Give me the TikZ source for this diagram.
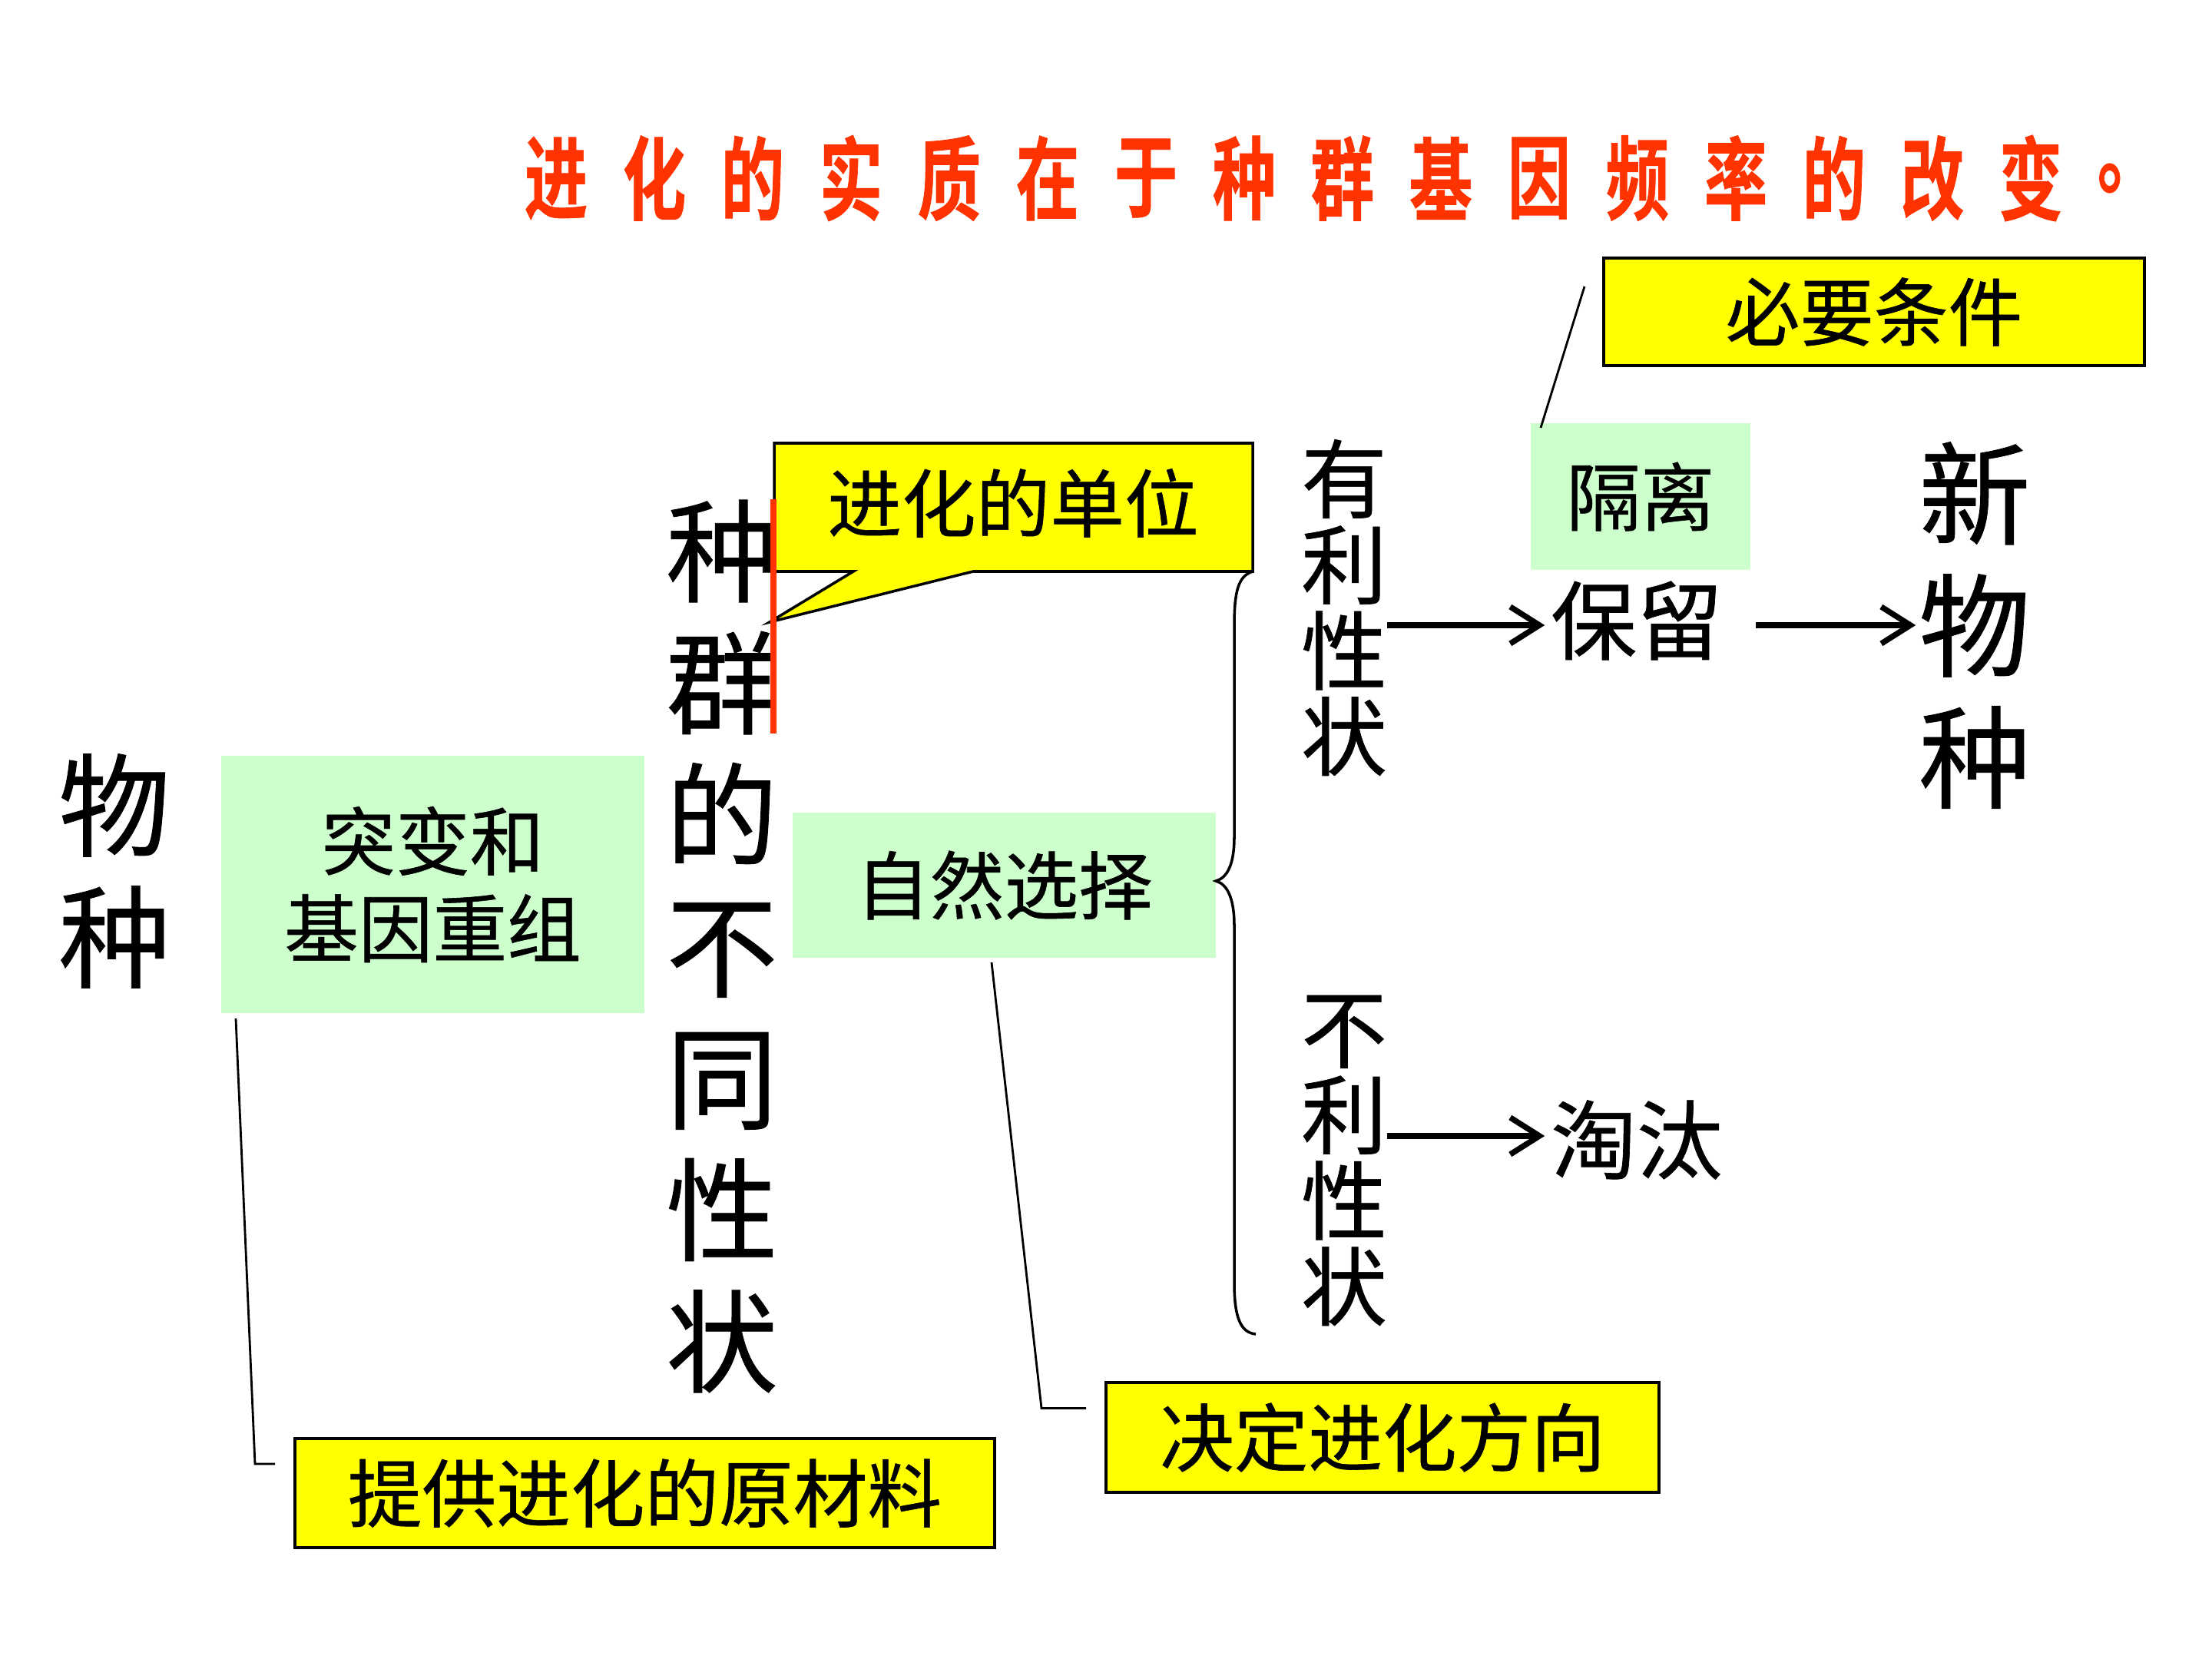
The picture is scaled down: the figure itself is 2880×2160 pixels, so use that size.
\documentclass[tikz,border=0pt]{standalone}
\usepackage{fontspec}
\newfontfamily\cjk[FakeBold=0.6]{Noto Sans CJK SC}
\newfontfamily\cjkttl[FakeBold=0.8]{Noto Sans CJK SC Bold}
\usetikzlibrary{arrows.meta,calc}
\definecolor{ttlred}{HTML}{FF3300}
\definecolor{boxyellow}{HTML}{FFFF00}
\definecolor{boxgreen}{HTML}{CCFFCC}
\tikzset{
  every node/.style={inner sep=0pt, outer sep=0pt},
  txtM/.style={font=\cjk\fontsize{27.5}{32.3}\selectfont, align=center},
  txtL/.style={font=\cjk\fontsize{31.8}{31.8}\selectfont, align=center},
  txtXL/.style={font=\cjk\fontsize{41.4}{48.8}\selectfont, align=center},
  ybox/.style={draw=black, line width=1pt, fill=boxyellow, txtM},
  gbox/.style={fill=boxgreen, txtM},
  ttl/.style={font=\cjkttl\fontsize{33.5}{33.5}\selectfont, text=ttlred},
  arr/.style={line width=2.1pt, -{Straight Barb[length=3.8mm,width=4.8mm,line width=2.1pt]}},
  thinline/.style={line width=0.8pt},
}
\begin{document}
\begin{tikzpicture}[x=0.1mm,y=-0.1mm]
\fill[white] (0,0) rectangle (2880,2160);
\useasboundingbox (0,0) rectangle (2880,2160);

% title
\foreach \c [count=\i from 0] in {进,化,的,实,质,在,于,种,群,基,因,频,率,的,改,变,。}
  \node[ttl] (t\i) at (724+128*\i,232) {\scalebox{0.7}[1]{\c}};

% left column
\node[txtXL] (wz) at (149,1134) {物\\种};
\node[gbox, minimum width=55.1mm, minimum height=33.5mm] (tb) at (563.5,1151.5) {突变和\\基因重组};
\node[txtXL] (zq) at (940,1232) {种\\群\\的\\不\\同\\性\\状};

% callout
\coordinate (uNW) at (1008,577);
\coordinate (uSE) at (1631,744);
\coordinate (ptip) at (1002,810);
\filldraw[fill=boxyellow, draw=black, line width=1pt]
  (uNW) -| (uSE) -- ($(uSE)+(-364,0)$) -- (ptip) -- ($(uSE)+(-520,0)$) -- (uNW |- uSE) -- cycle;
\node[txtM] (unit) at (1319,655) {进化的单位};
\draw[ttlred, line width=2.2pt] (1007,650) coordinate (rA) -- (1007,955) coordinate (rB);

% natural selection
\node[gbox, minimum width=55.1mm, minimum height=18.9mm] (zr) at (1307.5,1152.5) {自然选择};

% brace
\draw[line width=1pt] (uSE) .. controls (1612,750) and (1607,770) .. (1607,815)
  -- (1607,1090) .. controls (1607,1125) and (1598,1143) .. (1583,1147)
  .. controls (1598,1151) and (1607,1170) .. (1607,1205)
  -- (1607,1670) .. controls (1607,1715) and (1615,1735) .. (1635,1737);

% traits
\node[txtL] (yl) at (1750,791) {有\\利\\性\\状};
\node[txtL] (bl2) at (1750,1511) {不\\利\\性\\状};
\node[txtL] (bl) at (2131,808) {保留};
\node[txtL] (tt) at (2131,1484) {淘汰};
\node[txtXL] (xwz) at (2571,814) {新\\物\\种};

% isolation
\node[gbox, minimum width=28.6mm, minimum height=19.1mm] (gl) at (2136,646.5) {隔离};
\node[ybox, minimum width=70.4mm, minimum height=14mm] (by) at (2440,406) {必要条件};
\draw[thinline] ($(by.west)+(-25,-33)$) -- ($(gl.north west)+(13,6)$);

% bottom boxes
\node[ybox, minimum width=72mm, minimum height=14.3mm] (jd) at (1800,1871.5) {决定进化方向};
\node[ybox, minimum width=91.1mm, minimum height=14.2mm] (tg) at (839.5,1944) {提供进化的原材料};
\draw[thinline] ($(zr.south west)+(259,6)$) -- ($(jd.west)+(-84,-38)$) -- ($(jd.west)+(-26,-38)$);
\draw[thinline] ($(tb.south west)+(19,7)$) -- ($(tg.west)+(-52,-38)$) -- ($(tg.west)+(-26,-38)$);

% arrows
\draw[arr] ($(yl.east)+(0,23)$) -- ($(bl.west)+(-8,6)$);
\draw[arr] ($(bl.east)+(43,6)$) -- ($(xwz.west |- bl.east)+(-4,6)$);
\draw[arr] ($(bl2.east)+(0,-32)$) -- ($(tt.west)+(-8,-5)$);
\end{tikzpicture}
\end{document}
